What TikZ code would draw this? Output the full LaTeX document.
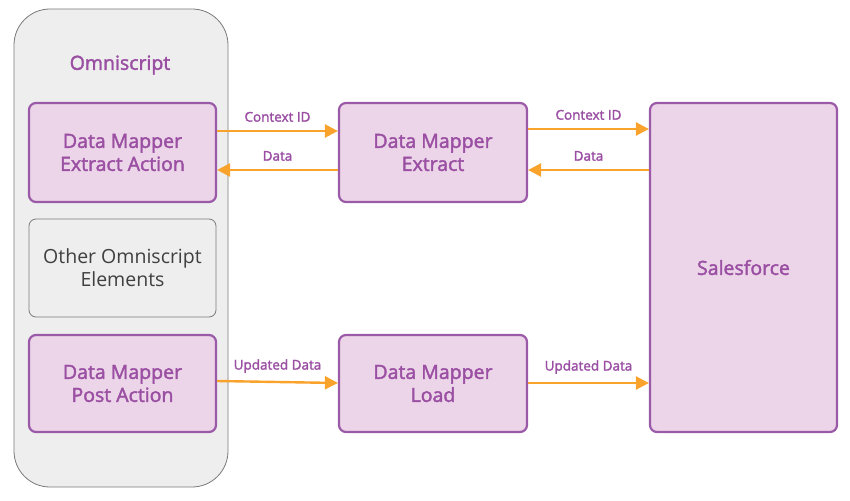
\documentclass[tikz,border=0pt]{standalone}
\usepackage{fontspec}
\setmainfont{Open Sans}
\newfontfamily\sbfont[FakeBold=2]{Open Sans}
\usetikzlibrary{arrows.meta}
\definecolor{purp}{HTML}{9B5AA8}
\definecolor{purpfill}{HTML}{ECD5E8}
\definecolor{purptext}{HTML}{9A4FA3}
\definecolor{orng}{HTML}{F9A22C}
\definecolor{contfill}{HTML}{EEEEEE}
\definecolor{contline}{HTML}{7A7A7A}
\definecolor{graytext}{HTML}{404040}
\tikzset{
  pbox/.style={draw=purp, line width=2.2pt, fill=purpfill, rounded corners=7pt,
    text=purptext, font=\sbfont\fontsize{19.5}{23}\selectfont, align=center, inner sep=0pt},
  gbox/.style={draw=contline, line width=0.8pt, fill=contfill, rounded corners=7pt,
    text=graytext, font=\fontsize{19.5}{23}\selectfont, align=center, inner sep=0pt},
  flow/.style={draw=orng, line width=2.4pt, -{Triangle[length=13pt,width=13pt]}},
  lab/.style={text=purptext, font=\sbfont\fontsize{13.5}{15}\selectfont, inner sep=0pt}
}
\begin{document}
\begin{tikzpicture}[x=1pt,y=-1pt]
\useasboundingbox (0,0) rectangle (850,500);
% container
\node[draw=contline, line width=0.8pt, fill=contfill, rounded corners=36pt,
  minimum width=214pt, minimum height=478pt, inner sep=0pt] (omni) at (121,248) {};
\node[text=purptext, font=\sbfont\fontsize{19.5}{23}\selectfont] (title) at (120,65) {Omniscript};
% boxes
\node[pbox, minimum width=187pt, minimum height=99pt] (ea) at (122.5,152.5) {Data Mapper\\Extract Action};
\node[gbox, minimum width=187pt, minimum height=98pt] (other) at (122.5,268) {Other Omniscript\\Elements};
\node[pbox, minimum width=187pt, minimum height=97pt] (pa) at (122.5,383.5) {Data Mapper\\Post Action};
\node[pbox, minimum width=188pt, minimum height=99pt] (ext) at (433,152.5) {Data Mapper\\Extract};
\node[pbox, minimum width=188pt, minimum height=97pt] (load) at (433,383.5) {Data Mapper\\Load};
\node[pbox, minimum width=187pt, minimum height=329pt] (sf) at (743.5,267.5) {Salesforce};
% arrows
\draw[flow] (ea.east |- 0,131) -- (ext.west |- 0,131) node[lab, midway, above=8pt] (l1) {Context ID};
\draw[flow] (ext.west |- 0,170) -- (ea.east |- 0,170) node[lab, midway, above=8pt] (l2) {Data};
\draw[flow] (ext.east |- 0,129) -- (sf.west |- 0,129) node[lab, midway, above=8pt] (l3) {Context ID};
\draw[flow] (sf.west |- 0,170) -- (ext.east |- 0,170) node[lab, midway, above=8pt] (l4) {Data};
\draw[flow] (pa.east |- 0,381) -- (load.west |- 0,383) node[lab, midway, above=8pt] (l5) {Updated Data};
\draw[flow] (load.east |- 0,383) -- (sf.west |- 0,383) node[lab, midway, above=8pt] (l6) {Updated Data};
\end{tikzpicture}
\end{document}
